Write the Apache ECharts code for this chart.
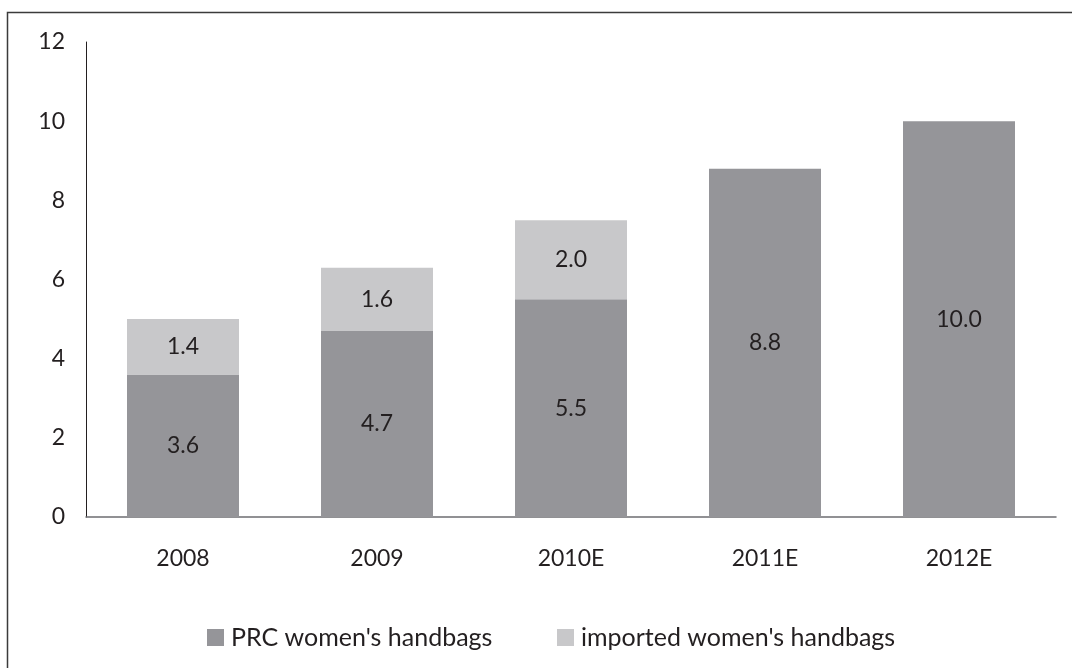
<!DOCTYPE html>
<html>
<head>
<meta charset="utf-8">
<script src="https://cdn.jsdelivr.net/npm/echarts@6/dist/echarts.min.js"></script>
<style>
  html, body { margin: 0; padding: 0; background: #fff; }
  #chart { width: 1072px; height: 668px; }
</style>
</head>
<body>
<div id="chart"></div>
<script>
// Women's handbag market, by origin
const categories = ['2008', '2009', '2010E', '2011E', '2012E'];
const prcValues = [3.6, 4.7, 5.5, 8.8, 10.0];
const importedValues = [1.4, 1.6, 2.0, null, null];
const yTicks = [0, 2, 4, 6, 8, 10, 12];

const FONT = 'Lato';
const TEXT = '#231f20';

const chart = echarts.init(document.getElementById('chart'), null, { renderer: 'canvas' });

const labelStyle = {
  show: true,
  position: 'inside',
  fontFamily: FONT,
  fontSize: 23,
  color: TEXT,
  formatter: p => (p.value == null ? '' : p.value.toFixed(1))
};

const legendText = { fontFamily: FONT, fontSize: 25, color: TEXT, padding: [0, 0, 0, 2] };

chart.setOption({
  animation: false,
  backgroundColor: '#ffffff',
  graphic: [{
    type: 'rect',
    shape: { x: 7.5, y: 12.5, width: 1100, height: 700 },
    style: { fill: 'none', stroke: '#3b3b3b', lineWidth: 1.5 },
    silent: true
  }],
  grid: { left: 86, right: 16, top: 42, bottom: 151, containLabel: false },
  legend: [
    {
      data: ['PRC women\'s handbags'],
      left: 202, top: 620,
      itemWidth: 17, itemHeight: 17, itemGap: 8,
      icon: 'rect',
      textStyle: legendText
    },
    {
      data: ['imported women\'s handbags'],
      left: 552, top: 620,
      itemWidth: 17, itemHeight: 17, itemGap: 8,
      icon: 'rect',
      textStyle: legendText
    }
  ],
  xAxis: {
    type: 'category',
    data: categories,
    axisLine: { show: true, lineStyle: { color: '#6d6e71', width: 1.5 } },
    axisTick: { show: false },
    axisLabel: { fontFamily: FONT, fontSize: 23, color: TEXT, margin: 30 }
  },
  yAxis: {
    type: 'value',
    min: yTicks[0],
    max: yTicks[yTicks.length - 1],
    interval: 2,
    axisLine: { show: true, lineStyle: { color: TEXT, width: 1 } },
    axisTick: { show: false },
    splitLine: { show: false },
    axisLabel: { fontFamily: FONT, fontSize: 23, color: TEXT, margin: 21 }
  },
  series: [
    {
      name: 'PRC women\'s handbags',
      type: 'bar',
      stack: 'total',
      data: prcValues,
      barWidth: 112,
      itemStyle: { color: '#959599' },
      label: labelStyle
    },
    {
      name: 'imported women\'s handbags',
      type: 'bar',
      stack: 'total',
      data: importedValues,
      barWidth: 112,
      itemStyle: { color: '#c8c8ca' },
      label: labelStyle
    }
  ]
});
</script>
</body>
</html>
